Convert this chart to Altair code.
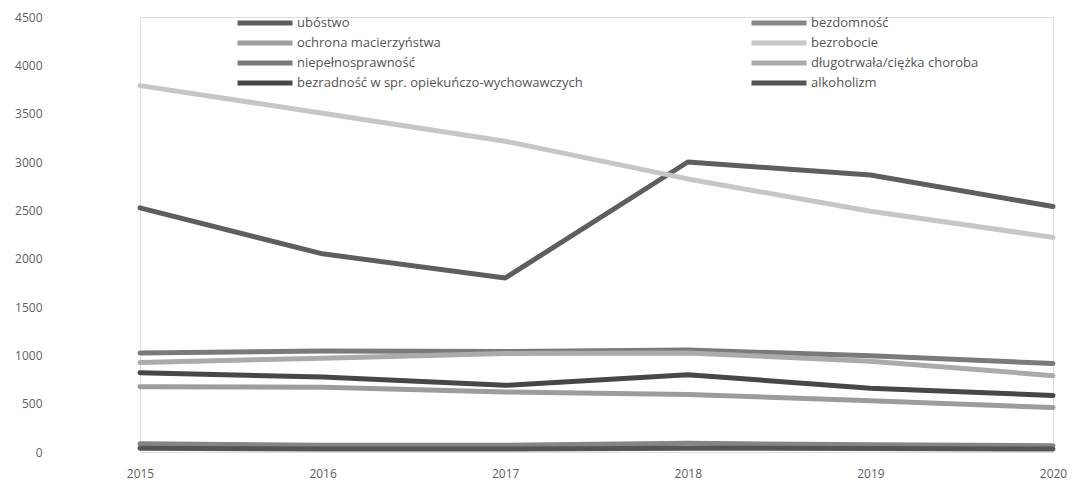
import altair as alt
import pandas as pd

years = [2015, 2016, 2017, 2018, 2019, 2020]

# legend order (column by column, as in the reference)
series_names = [
    "ubóstwo",
    "ochrona macierzyństwa",
    "niepełnosprawność",
    "bezradność w spr. opiekuńczo-wychowawczych",
    "bezdomność",
    "bezrobocie",
    "długotrwała/ciężka choroba",
    "alkoholizm",
]
series_colors = ["#5e5e5e", "#9c9c9c", "#7a7a7a", "#474747",
                 "#858585", "#c6c6c6", "#ababab", "#555555"]

ubostwo = [2525, 2050, 1800, 3000, 2865, 2540]
ochrona = [675, 670, 620, 595, 530, 460]
niepelnosprawnosc = [1025, 1045, 1040, 1055, 995, 915]
bezradnosc = [820, 775, 690, 800, 660, 585]
bezdomnosc = [85, 70, 70, 90, 75, 65]
bezrobocie = [3790, 3505, 3215, 2825, 2490, 2220]
dlugotrwala = [925, 970, 1020, 1025, 940, 790]
alkoholizm = [40, 30, 30, 40, 35, 30]

values = [ubostwo, ochrona, niepelnosprawnosc, bezradnosc,
          bezdomnosc, bezrobocie, dlugotrwala, alkoholizm]

rows = []
for name, vals in zip(series_names, values):
    for y, v in zip(years, vals):
        rows.append({"rok": str(y), "seria": name, "wartosc": v})
df = pd.DataFrame(rows)

chart = alt.Chart(df).mark_line(strokeWidth=5, strokeCap="round", strokeJoin="round").encode(
    x=alt.X("rok:O", scale=alt.Scale(type="point", padding=0),
            axis=alt.Axis(title=None, labelAngle=0, domain=False, ticks=False,
                          labelPadding=16, labelFontSize=12, labelFont="Open Sans",
                          labelColor="#606060", grid=False)),
    y=alt.Y("wartosc:Q", scale=alt.Scale(domain=[0, 4500], nice=False),
            axis=alt.Axis(title=None, values=list(range(0, 4501, 500)), format="d",
                          domain=False, ticks=False, grid=False, labelPadding=98,
                          minExtent=132, labelFontSize=12, labelFont="Open Sans",
                          labelColor="#606060")),
    color=alt.Color("seria:N", sort=series_names,
                    scale=alt.Scale(domain=series_names, range=series_colors),
                    legend=alt.Legend(title=None, orient="none", legendX=117, legendY=-2,
                                      columns=2, columnPadding=158, rowPadding=0,
                                      symbolType="M-5,0H5", symbolStrokeWidth=5,
                                      symbolSize=121, labelOffset=24,
                                      labelFontSize=13, labelFont="Open Sans",
                                      labelColor="#555555", labelLimit=400)),
).properties(
    width=913, height=435, padding={"left": 0, "top": 3, "right": 0, "bottom": 10}
).configure_view(stroke=None).configure(background="white")

chart.save("out.html", embed_options={"renderer": "svg", "actions": False})
